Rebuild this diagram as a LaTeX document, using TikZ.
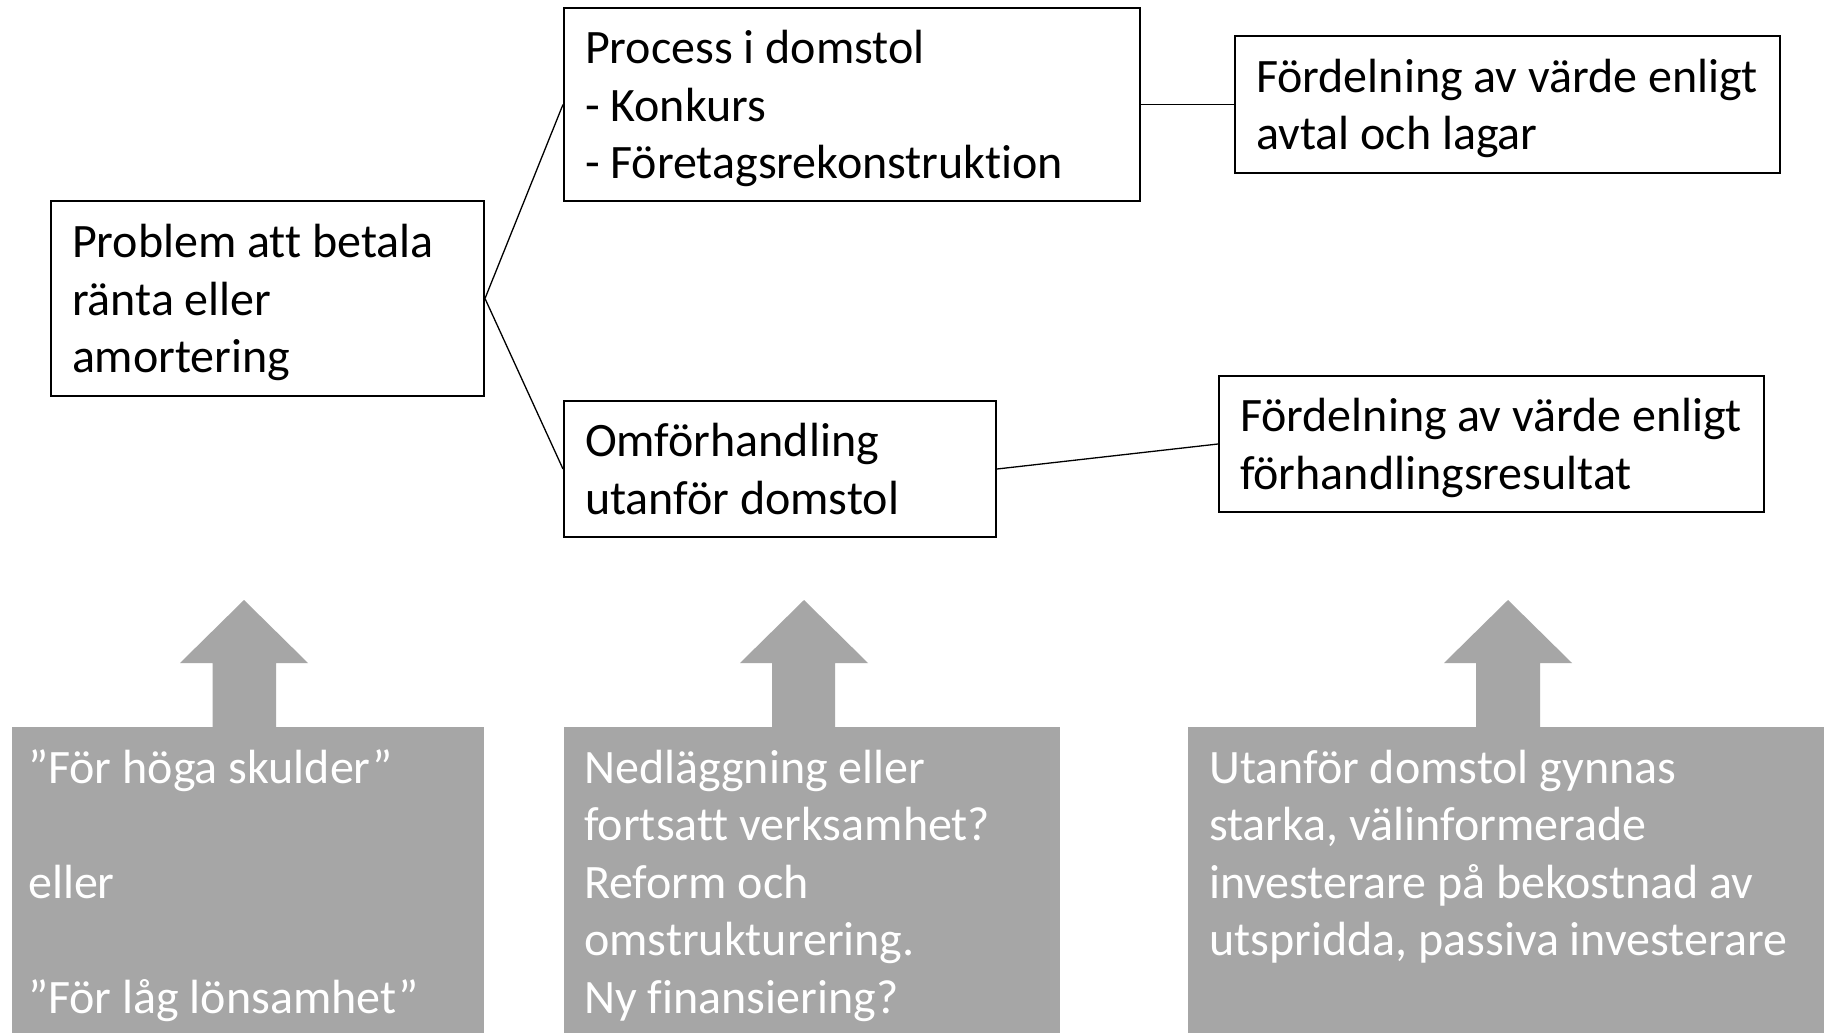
\documentclass[tikz,border=0pt]{standalone}
\usepackage{fontspec}
\setmainfont[Ligatures=NoCommon]{Carlito}
\definecolor{boxgray}{HTML}{A6A6A6}
\newcommand\mylines[1]{\spaceskip=0pt\xspaceskip=0pt\begin{tabular}[c]{@{}l@{}}#1\end{tabular}}
\newcommand\mylinesdown[1]{\spaceskip=0pt\xspaceskip=0pt\raisebox{-5pt}[\height][\depth]{\begin{tabular}[c]{@{}l@{}}#1\end{tabular}}}
\tikzset{
  wbox/.style={draw=black, line width=2pt, fill=white, inner xsep=21pt, inner ysep=0pt, align=left},
  gbox/.style={fill=boxgray, draw=none, inner sep=0pt, anchor=north west},
  gtext/.style={text=white, inner xsep=20pt, inner ysep=15.5pt, anchor=north west, align=left},
  conn/.style={draw=black, line width=1.3pt},
  garrow/.style={fill=boxgray, draw=none}
}
\begin{document}
\begin{tikzpicture}[x=1pt,y=-1pt,font=\fontsize{48}{57.6}\selectfont]
\useasboundingbox (0,0) rectangle (1824,1033);
\fill[white] (0,0) rectangle (1824,1033);

% white boxes
\node (prob) [wbox, minimum width=433, minimum height=195, text width=391] at (267.5,298.5)
  {\mylinesdown{Problem att betala\\ränta eller\\amortering}};
\node (proc) [wbox, minimum width=576, minimum height=193, text width=534] at (852,104.5)
  {\mylinesdown{Process i domstol\\- Konkurs\\- Företagsrekonstruktion}};
\node (omf) [wbox, minimum width=432, minimum height=136, text width=390] at (780,469)
  {\mylinesdown{Omförhandling\\utanför domstol}};
\node (ford1) [wbox, minimum width=545, minimum height=137, text width=503] at (1507.5,104.5)
  {\mylinesdown{Fördelning av värde enligt\\avtal och lagar}};
\node (ford2) [wbox, minimum width=545, minimum height=136, text width=503] at (1491.5,444)
  {\mylinesdown{Fördelning av värde enligt\\förhandlingsresultat}};

% connectors
\draw[conn] (prob.east) -- (proc.west);
\draw[conn] (prob.east) -- (omf.west);
\draw[conn] (proc.east) -- (ford1.west);
\draw[conn] (omf.east) -- (ford2.west);

% gray arrows
\fill[garrow] (212.5,728) -- (212.5,663) -- (180,663) -- (244,600) -- (308,663) -- (276,663) -- (276,728) -- cycle;
\fill[garrow] (772,728) -- (772,663) -- (740,663) -- (804,600) -- (868,663) -- (835,663) -- (835,728) -- cycle;
\fill[garrow] (1476,728) -- (1476,663) -- (1444,663) -- (1508,600) -- (1572,663) -- (1540,663) -- (1540,728) -- cycle;

% gray boxes
\node (g1) [gbox, minimum width=472, minimum height=306] at (12,727) {};
\node (g2) [gbox, minimum width=496, minimum height=306] at (564,727) {};
\node (g3) [gbox, minimum width=636, minimum height=306] at (1188,727) {};

\node (t1) [gtext, inner xsep=16pt] at (g1.north west)
  {\mylines{”För höga skulder”\\ \\eller\\ \\”För låg lönsamhet”}};
\node (t2) [gtext] at (g2.north west)
  {\mylines{Nedläggning eller\\fortsatt verksamhet?\\Reform och\\omstrukturering.\\Ny finansiering?}};
\node (t3) [gtext, inner xsep=21pt] at (g3.north west)
  {\mylines{Utanför domstol gynnas\\starka, välinformerade\\investerare på bekostnad av\\utspridda, passiva investerare}};
\end{tikzpicture}
\end{document}
